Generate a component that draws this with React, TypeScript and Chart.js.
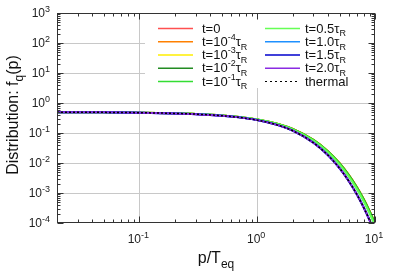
import React, { useEffect, useRef } from "react";
import { Chart, registerables } from "chart.js";

Chart.register(...registerables);

// ---- data ----
const momenta = [0.02, 0.05, 0.1, 0.2, 0.3, 0.5, 0.7, 1, 1.5, 2, 3, 4, 5, 6, 7, 8, 9, 10];
const fInitial = [0.4954, 0.4885, 0.477, 0.454, 0.4313, 0.3868, 0.3441, 0.2847, 0.2006, 0.1367, 0.0592, 0.0244, 0.00987, 0.00395, 0.00158, 0.000628, 0.000249, 0.0000992];
const fEarly = [0.4953, 0.4884, 0.4768, 0.4536, 0.4307, 0.3858, 0.3427, 0.2829, 0.1985, 0.1346, 0.0578, 0.0236, 0.00946, 0.00376, 0.001484, 0.000585, 0.000231, 0.0000911];
const fHalf = [0.4953, 0.4882, 0.4764, 0.453, 0.4297, 0.3842, 0.3407, 0.2802, 0.1954, 0.1316, 0.0557, 0.0225, 0.00886, 0.00347, 0.00135, 0.000528, 0.000205, 0.0000799];
const fLate = [0.495, 0.4876, 0.4752, 0.4502, 0.4258, 0.3778, 0.332, 0.2692, 0.1827, 0.1195, 0.0476, 0.0181, 0.00673, 0.00249, 0.000918, 0.000338, 0.000124, 0.0000458];
const fThermal = [0.495, 0.4875, 0.475, 0.45, 0.4256, 0.3775, 0.3318, 0.2689, 0.1824, 0.1192, 0.0474, 0.018, 0.00669, 0.00247, 0.000911, 0.000335, 0.000123, 0.0000454];

type Seg = { t: string; s?: "sup" | "sub" };

const seriesNames: Seg[][] = [
  [{ t: "t=0" }],
  [{ t: "t=10" }, { t: "-4", s: "sup" }, { t: "τ" }, { t: "R", s: "sub" }],
  [{ t: "t=10" }, { t: "-3", s: "sup" }, { t: "τ" }, { t: "R", s: "sub" }],
  [{ t: "t=10" }, { t: "-2", s: "sup" }, { t: "τ" }, { t: "R", s: "sub" }],
  [{ t: "t=10" }, { t: "-1", s: "sup" }, { t: "τ" }, { t: "R", s: "sub" }],
  [{ t: "t=0.5τ" }, { t: "R", s: "sub" }],
  [{ t: "t=1.0τ" }, { t: "R", s: "sub" }],
  [{ t: "t=1.5τ" }, { t: "R", s: "sub" }],
  [{ t: "t=2.0τ" }, { t: "R", s: "sub" }],
  [{ t: "thermal" }],
];
const seriesValues = [fInitial, fInitial, fInitial, fInitial, fEarly, fHalf, fLate, fThermal, fThermal, fThermal];
const seriesColors = ["#ff5050", "#ff8000", "#ffee00", "#228b22", "#33dd33", "#66ff55", "#1e90ff", "#0000cc", "#8a2be2", "#000000"];

const xTickExps = [-1, 0, 1];
const yTickExps = [-4, -3, -2, -1, 0, 1, 2, 3];
const xTitle: Seg[] = [{ t: "p/T" }, { t: "eq", s: "sub" }];
const yTitle: Seg[] = [{ t: "Distribution: f" }, { t: "q", s: "sub" }, { t: "(p)" }];

const FONT = '"Liberation Sans", Arial, Helvetica, sans-serif';

function segFont(size: number, s?: string) {
  const sz = s ? Math.round(size * 0.72) : size;
  return `${sz}px ${FONT}`;
}
function richWidth(ctx: CanvasRenderingContext2D, segs: Seg[], size: number) {
  let w = 0;
  for (const sg of segs) {
    ctx.font = segFont(size, sg.s);
    w += ctx.measureText(sg.t).width;
  }
  return w;
}
function drawRich(ctx: CanvasRenderingContext2D, segs: Seg[], x: number, y: number, size: number, align: "left" | "center" | "right") {
  const w = richWidth(ctx, segs, size);
  let cx = align === "left" ? x : align === "center" ? x - w / 2 : x - w;
  ctx.textAlign = "left";
  ctx.textBaseline = "alphabetic";
  for (const sg of segs) {
    ctx.font = segFont(size, sg.s);
    const dy = sg.s === "sup" ? -size * 0.45 : sg.s === "sub" ? size * 0.3 : 0;
    ctx.fillText(sg.t, cx, y + dy);
    cx += ctx.measureText(sg.t).width;
  }
}

const overlay = {
  id: "overlay",
  beforeDatasetsDraw(chart: any) {
    const { ctx, chartArea: a, scales } = chart;
    const xs = scales.x, ys = scales.y;
    ctx.save();
    ctx.strokeStyle = "#c8c8c8";
    ctx.lineWidth = 1;
    ctx.beginPath();
    for (const e of xTickExps) {
      const px = Math.round(xs.getPixelForValue(Math.pow(10, e))) + 0.5;
      if (px > a.left + 1 && px < a.right - 1) { ctx.moveTo(px, a.top); ctx.lineTo(px, a.bottom); }
    }
    for (const e of yTickExps) {
      const py = Math.round(ys.getPixelForValue(Math.pow(10, e))) + 0.5;
      if (py > a.top + 1 && py < a.bottom - 1) { ctx.moveTo(a.left, py); ctx.lineTo(a.right, py); }
    }
    ctx.stroke();
    // legend background
    ctx.fillStyle = "#ffffff";
    ctx.fillRect(145, a.top + 1, 224, 74);
    ctx.restore();
  },
  afterDatasetsDraw(chart: any) {
    const { ctx, chartArea: a, scales } = chart;
    const xs = scales.x, ys = scales.y;
    ctx.save();
    // border
    ctx.strokeStyle = "#333333";
    ctx.lineWidth = 1;
    const L = Math.round(a.left) + 0.5, R = Math.round(a.right) - 0.5, T = Math.round(a.top) + 0.5, B = Math.round(a.bottom) - 0.5;
    ctx.strokeRect(L, T, R - L, B - T);
    // ticks
    ctx.beginPath();
    for (let d = -2; d <= 1; d++) {
      for (let m = 1; m <= 9; m++) {
        const v = m * Math.pow(10, d);
        if (v < 0.02 - 1e-9 || v > 10 + 1e-9) continue;
        const px = Math.round(xs.getPixelForValue(v)) + 0.5;
        const len = m === 1 ? 6 : 3;
        ctx.moveTo(px, B); ctx.lineTo(px, B - len);
        ctx.moveTo(px, T); ctx.lineTo(px, T + len);
      }
    }
    for (let d = -4; d <= 3; d++) {
      for (let m = 1; m <= 9; m++) {
        const v = m * Math.pow(10, d);
        if (v > 1000 + 1e-9) continue;
        const py = Math.round(ys.getPixelForValue(v)) + 0.5;
        const len = m === 1 ? 6 : 3;
        ctx.moveTo(L, py); ctx.lineTo(L + len, py);
        ctx.moveTo(R, py); ctx.lineTo(R - len, py);
      }
    }
    ctx.stroke();

    // tick labels
    ctx.fillStyle = "#222222";
    for (const e of yTickExps) {
      const py = ys.getPixelForValue(Math.pow(10, e));
      drawRich(ctx, [{ t: "10" }, { t: String(e).replace("-", "-"), s: "sup" }], 50, py + 4, 12, "right");
    }
    for (const e of xTickExps) {
      const px = xs.getPixelForValue(Math.pow(10, e));
      drawRich(ctx, [{ t: "10" }, { t: String(e), s: "sup" }], px - 1, 243, 12, "center");
    }
    // axis titles
    ctx.fillStyle = "#111111";
    drawRich(ctx, xTitle, 216, 263, 16, "center");
    ctx.save();
    ctx.translate(18, 115);
    ctx.rotate(-Math.PI / 2);
    drawRich(ctx, yTitle, 0, 0, 16, "center");
    ctx.restore();

    // legend
    const rows = 5;
    for (let i = 0; i < seriesNames.length; i++) {
      const col = Math.floor(i / rows);
      const row = i % rows;
      const ly = 28.5 + row * 13.25;
      const x0 = col === 0 ? 158 : 265;
      const x1 = col === 0 ? 193 : 300;
      const tx = col === 0 ? 202 : 305;
      ctx.beginPath();
      ctx.strokeStyle = seriesColors[i];
      ctx.lineWidth = i === seriesNames.length - 1 ? 1 : 1.5;
      ctx.setLineDash(i === seriesNames.length - 1 ? [2, 3] : []);
      ctx.moveTo(x0, ly); ctx.lineTo(x1, ly);
      ctx.stroke();
      ctx.setLineDash([]);
      ctx.fillStyle = "#111111";
      drawRich(ctx, seriesNames[i], tx, ly + 4, 13, "left");
    }
    ctx.restore();
  },
};

export default function App() {
  const ref = useRef<HTMLCanvasElement | null>(null);
  useEffect(() => {
    if (!ref.current) return;
    const datasets = seriesNames.map((_, i) => {
      const thermal = i === seriesNames.length - 1;
      return {
        label: `series${i}`,
        data: momenta.map((p, k) => ({ x: p, y: seriesValues[i][k] })),
        borderColor: seriesColors[i],
        backgroundColor: seriesColors[i],
        borderWidth: thermal ? 1.5 : 2,
        borderDash: thermal ? [2, 2] : [],
        pointRadius: 0,
        fill: false,
        cubicInterpolationMode: "monotone" as const,
        order: seriesNames.length - 1 - i,
      };
    });
    const chart = new Chart(ref.current, {
      type: "line",
      data: { datasets },
      options: {
        responsive: false,
        animation: false,
        events: [],
        layout: { padding: { left: 57, right: 24, top: 13, bottom: 56 } },
        plugins: { legend: { display: false }, tooltip: { enabled: false } },
        scales: {
          x: { type: "logarithmic", min: 0.02, max: 10, display: false },
          y: { type: "logarithmic", min: 1e-4, max: 1e3, display: false },
        },
      },
      plugins: [overlay],
    });
    return () => chart.destroy();
  }, []);
  return (
    <div style={{ position: "absolute", left: 0, top: 0, width: 399, height: 279, background: "#fff" }}>
      <canvas ref={ref} width={399} height={279} style={{ display: "block", width: 399, height: 279 }} />
    </div>
  );
}
